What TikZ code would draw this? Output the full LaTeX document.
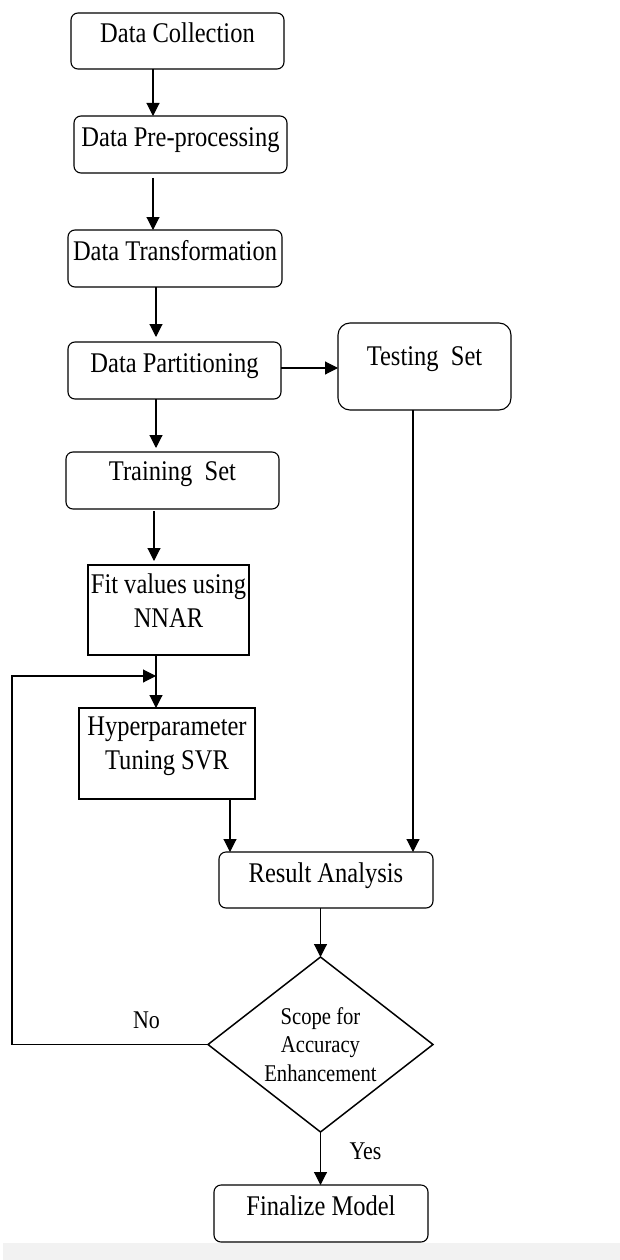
\documentclass[tikz,border=0pt]{standalone}
\usepackage{fontspec}
\setmainfont{Liberation Serif}[FakeStretch=0.86]
\usetikzlibrary{arrows.meta,shapes.geometric}
\begin{document}
\begin{tikzpicture}[x=1pt,y=-1pt,
  every node/.style={inner sep=0pt, outer sep=0pt},
  rbox/.style={draw, line width=1.1pt, rounded corners=7pt, font=\fontsize{28.5}{34}\selectfont,
    text height=20pt, text depth=16pt},
  sbox/.style={draw, line width=1.1pt, font=\fontsize{28.5}{34}\selectfont, align=center},
  lbl/.style={font=\fontsize{25.5}{28}\selectfont, anchor=base},
  arr/.style={draw, line width=1.1pt, -{Triangle[length=13pt,width=13pt]}}
]
\useasboundingbox (0,0) rectangle (620,1260);
\fill[black!5] (3,1243) rectangle (620,1260);

\node[rbox, minimum width=213pt, minimum height=56pt] (dc) at (177.5,41) {Data Collection};
\node[rbox, minimum width=213pt, minimum height=57pt] (dp) at (180.5,144.5) {Data Pre-processing};
\node[rbox, minimum width=214pt, minimum height=57pt] (dt) at (175,258.5) {Data Transformation};
\node[rbox, minimum width=213pt, minimum height=57pt] (dpart) at (174.5,370.5) {Data Partitioning};
\node[rbox, rounded corners=12pt, minimum width=173pt, minimum height=87pt, text depth=23pt] (test) at (424.5,366.5) {Testing\ \ Set};
\node[rbox, minimum width=213pt, minimum height=57pt, text depth=20pt] (train) at (172.5,480.5) {Training\ \ Set};
\node[sbox, minimum width=161pt, minimum height=90pt, text height=51pt, text depth=17pt] (fit) at (168.5,610) {Fit values using\\NNAR};
\node[sbox, minimum width=176pt, minimum height=91pt, text height=51pt, text depth=20pt] (hyp) at (167,753.5) {Hyperparameter\\Tuning SVR};
\node[rbox, minimum width=214pt, minimum height=56pt] (res) at (326,880) {Result Analysis};
\node[draw, line width=1.5pt, diamond, aspect=1.3, minimum width=225pt, minimum height=175pt,
  font=\fontsize{24}{28.5}\selectfont, align=center] (dia) at (320.5,1044.5) {Scope for\\Accuracy\\Enhancement};
\node[rbox, minimum width=214pt, minimum height=57pt] (fin) at (321,1213.5) {Finalize Model};

\node[lbl] (no) at (146.5,1028) {No};
\node[lbl] (yes) at (365.5,1159) {Yes};

\coordinate (lp) at (12,676);
\coordinate (fh) at (156,676);

\draw[arr] (dc.south -| 153,0) -- (dp.north -| 153,0);
\draw[arr, shorten <=5pt] (dp.south -| 153,0) -- (dt.north -| 153,0);
\draw[arr, shorten >=5pt] (dt.south -| 156,0) -- (dpart.north -| 156,0);
\draw[arr] (dpart.east |- 0,368) -- (test.west |- 0,368);
\draw[arr, shorten >=4pt] (dpart.south -| 156,0) -- (train.north -| 156,0);
\draw[arr, shorten <=2pt, shorten >=4pt] (train.south -| 154,0) -- (fit.north -| 154,0);
\draw[arr] (fit.south -| 156,0) -- (hyp.north -| 156,0);
\draw[arr] (hyp.south -| 230,0) -- (res.north -| 230,0);
\draw[arr] (test.south -| 413,0) -- (res.north -| 413,0);
\draw[arr] (res.south -| dia.north) -- (dia.north);
\draw[arr] (dia.south) -- (fin.north -| dia.south);
\draw[arr] (dia.west) -| (lp) -- (fh);
\end{tikzpicture}
\end{document}
